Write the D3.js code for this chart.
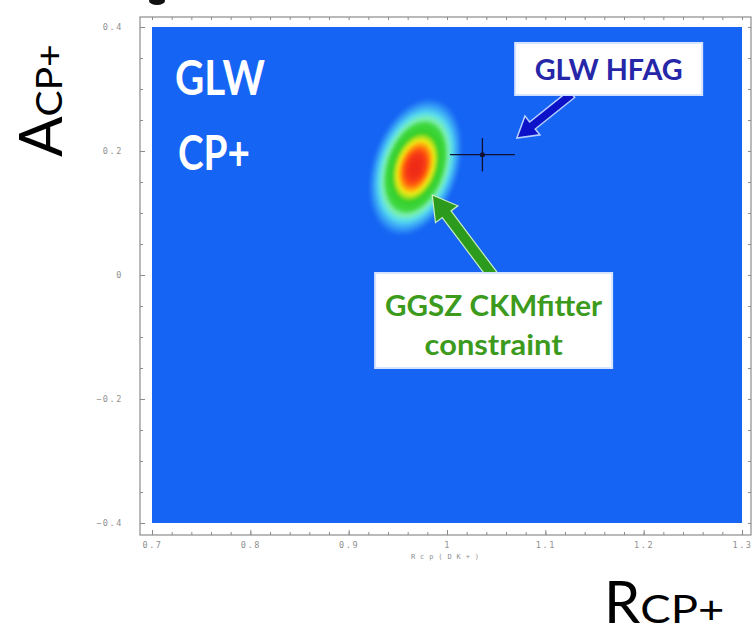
<!DOCTYPE html>
<html>
<head>
<meta charset="utf-8">
<script src="https://cdn.jsdelivr.net/npm/d3@7"></script>
<style>
  body { margin: 0; background: #fff; }
  svg { display: block; }
</style>
</head>
<body>
<div id="chart"></div>
<script>
const width = 753;
const height = 634;

// axis ranges and tick labels
const xDomain = [0.7, 1.3];
const yDomain = [-0.4, 0.4];
const xTicks = [0.7, 0.8, 0.9, 1.0, 1.1, 1.2, 1.3];
const yTicks = [-0.4, -0.2, 0, 0.2, 0.4];
const xMinor = d3.range(0.7, 1.3001, 0.02);
const yMinor = d3.range(-0.4, 0.4001, 0.05);

// GGSZ CKMfitter constraint: centre, widths, correlation
const ggszCentre = [0.968, 0.174];
const ggszSigma = [0.021, 0.049];
const ggszRho = 0.3;

// GLW HFAG average and errors
const hfagPoint = [1.036, 0.194];
const hfagErr = [0.033, 0.027];

// density -> colour
const levelStops = [0.07, 0.13, 0.20, 0.28, 0.36, 0.52, 0.60, 0.68, 0.76, 0.84, 0.92, 1.0];
const levelColors = ['#1664f3', '#38a2f6', '#58dcee', '#7ef0b0', '#40d840', '#34cf2c',
                     '#9ee020', '#f2ea14', '#ffa010', '#ff5a12', '#f43414', '#ee2a12'];

const svg = d3.select('#chart').append('svg').attr('width', width).attr('height', height);

const x = d3.scaleLinear().domain(xDomain).range([152, 742]);
const y = d3.scaleLinear().domain(yDomain).range([523, 27]);

const frame = {left: 140, right: 751, top: 17, bottom: 535};

// frame
svg.append('rect')
    .attr('x', frame.left).attr('y', frame.top)
    .attr('width', frame.right - frame.left).attr('height', frame.bottom - frame.top)
    .attr('fill', '#fff').attr('stroke', '#8c8c8c').attr('stroke-width', 1.2);

// cut-off mark above the frame
svg.append('ellipse').attr('cx', 157).attr('cy', 1).attr('rx', 8).attr('ry', 4).attr('fill', '#111');

// blue plot area
const defs = svg.append('defs');
defs.append('clipPath').attr('id', 'clip').append('rect')
    .attr('x', x(xDomain[0])).attr('y', y(yDomain[1]))
    .attr('width', x(xDomain[1]) - x(xDomain[0])).attr('height', y(yDomain[0]) - y(yDomain[1]));
defs.append('filter').attr('id', 'soft').append('feGaussianBlur').attr('stdDeviation', 1.6);

svg.append('rect')
    .attr('x', x(xDomain[0])).attr('y', y(yDomain[1]))
    .attr('width', x(xDomain[1]) - x(xDomain[0])).attr('height', y(yDomain[0]) - y(yDomain[1]))
    .attr('fill', levelColors[0]);

// heat map of the constraint
const cell = 2;
const x0 = x(xDomain[0]), y0 = y(yDomain[1]);
const nx = Math.ceil((x(xDomain[1]) - x0) / cell);
const ny = Math.ceil((y(yDomain[0]) - y0) / cell);
const grid = new Float64Array(nx * ny);
for (let j = 0; j < ny; j++) {
    for (let i = 0; i < nx; i++) {
        const dx = (x.invert(x0 + (i + 0.5) * cell) - ggszCentre[0]) / ggszSigma[0];
        const dy = (y.invert(y0 + (j + 0.5) * cell) - ggszCentre[1]) / ggszSigma[1];
        const q = (dx * dx - 2 * ggszRho * dx * dy + dy * dy) / (1 - ggszRho * ggszRho);
        grid[j * nx + i] = Math.exp(-0.5 * q);
    }
}
const color = d3.scaleLinear().domain(levelStops).range(levelColors).interpolate(d3.interpolateRgb);
const contours = d3.contours().size([nx, ny]).thresholds(d3.range(0.07, 1, 0.01))(grid);
const cpath = d3.geoPath(d3.geoIdentity().scale(cell).translate([x0, y0]));

svg.append('g').attr('clip-path', 'url(#clip)').attr('filter', 'url(#soft)')
  .selectAll('path').data(contours).join('path')
    .attr('d', cpath)
    .attr('fill', d => color(d.value));

// axes on the frame
const fmt = d3.format('~g');
function styleAxis(g) {
    g.select('.domain').remove();
    g.selectAll('line').attr('stroke', '#8c8c8c');
    g.selectAll('text').attr('fill', '#8f8f8f')
        .style('font-family', 'DejaVu Sans Mono').style('font-size', '8.5px').style('letter-spacing', '1.6px');
}
svg.append('g').attr('transform', `translate(${frame.left},0)`)
    .call(d3.axisLeft(y).tickValues(yTicks).tickFormat(fmt).tickSize(-5).tickPadding(17)).call(styleAxis);
svg.append('g').attr('transform', `translate(${frame.left},0)`)
    .call(d3.axisLeft(y).tickValues(yMinor).tickFormat('').tickSize(-3)).call(styleAxis);
svg.append('g').attr('transform', `translate(${frame.right},0)`)
    .call(d3.axisRight(y).tickValues(yMinor).tickFormat('').tickSize(-3)).call(styleAxis);
svg.append('g').attr('transform', `translate(0,${frame.bottom})`)
    .call(d3.axisBottom(x).tickValues(xTicks).tickFormat(fmt).tickSize(-5).tickPadding(7)).call(styleAxis);
svg.append('g').attr('transform', `translate(0,${frame.bottom})`)
    .call(d3.axisBottom(x).tickValues(xMinor).tickFormat('').tickSize(-3)).call(styleAxis);
svg.append('g').attr('transform', `translate(0,${frame.top})`)
    .call(d3.axisTop(x).tickValues(xMinor).tickFormat('').tickSize(-3)).call(styleAxis);

svg.append('text').attr('x', 445).attr('y', 559).attr('text-anchor', 'middle')
    .attr('fill', '#8f8f8f').style('font-family', 'DejaVu Sans Mono').style('font-size', '7px')
    .attr('textLength', 68).attr('lengthAdjust', 'spacing')
    .text('Rcp(DK+)');

// HFAG point with error cross
const hf = svg.append('g').attr('stroke', '#101030').attr('stroke-width', 1.3);
hf.append('line').attr('x1', x(hfagPoint[0] - hfagErr[0])).attr('x2', x(hfagPoint[0] + hfagErr[0]))
    .attr('y1', y(hfagPoint[1])).attr('y2', y(hfagPoint[1]));
hf.append('line').attr('x1', x(hfagPoint[0])).attr('x2', x(hfagPoint[0]))
    .attr('y1', y(hfagPoint[1] - hfagErr[1])).attr('y2', y(hfagPoint[1] + hfagErr[1]));
svg.append('circle').attr('cx', x(hfagPoint[0])).attr('cy', y(hfagPoint[1])).attr('r', 2.5).attr('fill', '#101030');

// arrows
function arrow(tail, tip, shaftW, headW, headL) {
    const ax = x(tail[0]), ay = y(tail[1]), bx = x(tip[0]), by = y(tip[1]);
    const len = Math.hypot(bx - ax, by - ay);
    const ux = (bx - ax) / len, uy = (by - ay) / len, px = -uy, py = ux;
    const hx = bx - ux * headL, hy = by - uy * headL;
    return [
        [ax + px * shaftW / 2, ay + py * shaftW / 2],
        [hx + px * shaftW / 2, hy + py * shaftW / 2],
        [hx + px * headW / 2, hy + py * headW / 2],
        [bx, by],
        [hx - px * headW / 2, hy - py * headW / 2],
        [hx - px * shaftW / 2, hy - py * shaftW / 2],
        [ax - px * shaftW / 2, ay - py * shaftW / 2]
    ];
}
svg.append('polygon').attr('points', arrow([1.127, 0.292], [1.071, 0.221], 9, 24, 20).join(' '))
    .attr('fill', '#0c12c8').attr('stroke', '#b8d0ff').attr('stroke-width', 1.5);
svg.append('polygon').attr('points', arrow([1.046, 0.0], [0.985, 0.129], 11, 28, 24).join(' '))
    .attr('fill', '#2c9a1c').attr('stroke', '#c8f0c0').attr('stroke-width', 1.2);

// label boxes
function box(cx, cy, w, h) {
    svg.append('rect').attr('x', x(cx) - w / 2).attr('y', y(cy) - h / 2).attr('width', w).attr('height', h)
        .attr('fill', '#fff').attr('stroke', '#d6e4ff').attr('stroke-width', 2);
}
box(1.1644, 0.3323, 187, 52);
svg.append('text').attr('x', x(1.1644)).attr('y', y(0.3323) + 11).attr('text-anchor', 'middle')
    .attr('fill', '#2626a8').style('font-family', 'Lato').style('font-weight', 700).style('font-size', '28px')
    .attr('textLength', 148).attr('lengthAdjust', 'spacingAndGlyphs').text('GLW HFAG');

box(1.0474, -0.0734, 237, 95);
const gl = svg.append('text').attr('text-anchor', 'middle')
    .attr('fill', '#3c9a1c').style('font-family', 'Lato').style('font-weight', 700).style('font-size', '29px');
gl.append('tspan').attr('x', x(1.0474)).attr('y', y(-0.0734) - 5).attr('textLength', 217)
    .attr('lengthAdjust', 'spacingAndGlyphs').text('GGSZ CKMfitter');
gl.append('tspan').attr('x', x(1.0474)).attr('y', y(-0.0734) + 34).attr('textLength', 138)
    .attr('lengthAdjust', 'spacingAndGlyphs').text('constraint');

// GLW / CP+ title
const tl = svg.append('text').attr('fill', '#fff')
    .style('font-family', 'Lato').style('font-weight', 700).style('font-size', '48px');
tl.append('tspan').attr('x', 175).attr('y', 95).attr('textLength', 90).attr('lengthAdjust', 'spacingAndGlyphs').text('GLW');
tl.append('tspan').attr('x', 178).attr('y', 170).attr('textLength', 72).attr('lengthAdjust', 'spacingAndGlyphs').text('CP+');

// big axis titles
const yl = svg.append('text').attr('transform', 'translate(62,157) rotate(-90)')
    .attr('fill', '#000').style('font-family', 'Lato').style('font-size', '60px');
yl.append('tspan').text('A');
yl.append('tspan').style('font-size', '36px').attr('textLength', 72).attr('lengthAdjust', 'spacingAndGlyphs').text('CP+');

const xl = svg.append('text').attr('x', 604).attr('y', 623)
    .attr('fill', '#000').style('font-family', 'Lato').style('font-size', '58px');
xl.append('tspan').text('R');
xl.append('tspan').style('font-size', '38px').attr('textLength', 84).attr('lengthAdjust', 'spacingAndGlyphs').text('CP+');
</script>
</body>
</html>
